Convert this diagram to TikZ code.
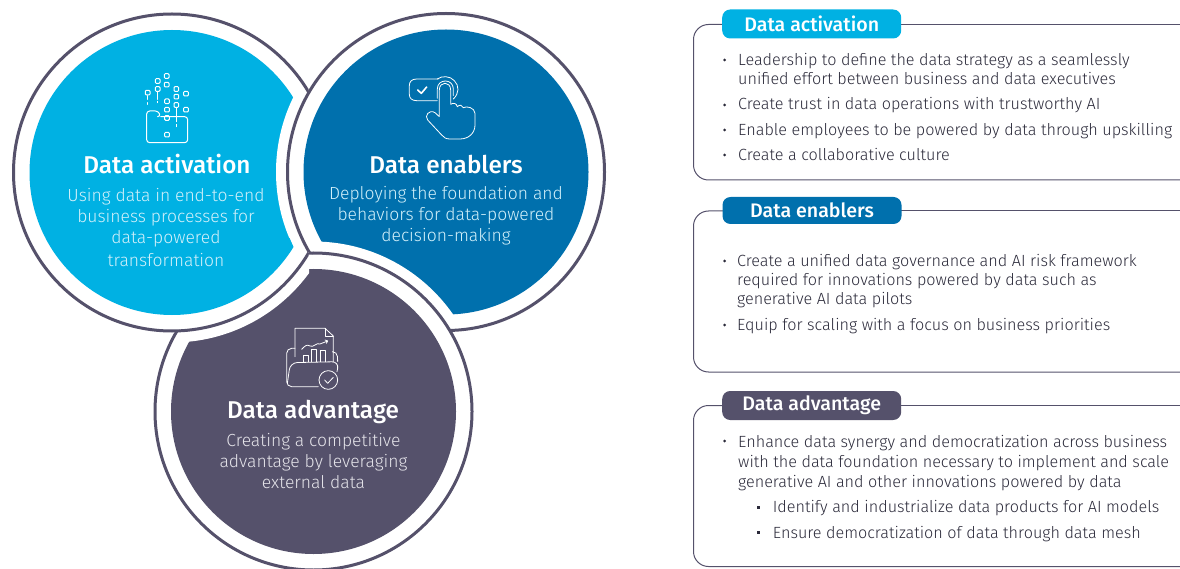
\documentclass[tikz,border=0pt]{standalone}
\usepackage{fontspec}
\setmainfont{Fira Sans Light}
\newfontfamily\headfont{Fira Sans Medium}
\usetikzlibrary{positioning}
\definecolor{skyblue}{HTML}{00B1E3}
\definecolor{deepblue}{HTML}{0070AD}
\definecolor{slate}{HTML}{55516B}
\definecolor{bodyink}{HTML}{2B2A3A}
\definecolor{paleblue}{HTML}{D2F0FA}
\definecolor{paleslate}{HTML}{E4E3E9}
\tikzstyle{ringline} = [draw=slate, line width=3pt]
\tikzstyle{frame} = [draw=slate, line width=1pt, rounded corners=15pt]
\tikzstyle{title} = [anchor=base, text=white, font=\headfont\fontsize{24.3}{28}\selectfont]
\tikzstyle{blurb} = [anchor=base, text=paleslate, font=\fontsize{17.5}{21}\selectfont]
\tikzstyle{pill} = [rectangle, rounded corners=8pt, minimum width=179pt, text=white,
inner sep=0pt, font=\headfont\fontsize{19.6}{22}\selectfont]
\tikzstyle{item} = [anchor=base west, inner sep=0pt, align=left, text=bodyink,
font=\fontsize{16.2}{19}\selectfont]
\tikzstyle{dot} = [circle, fill=bodyink, inner sep=0pt, minimum size=3pt]
\tikzstyle{sqdot} = [rectangle, fill=bodyink, inner sep=0pt, minimum size=3pt]
\tikzstyle{icon} = [draw=white, line width=1pt, line join=round, line cap=round]
\newcommand{\colordisc}[3]{
    \fill [white, even odd rule] (#1,#2) circle (170pt) (#1,#2) circle (142pt);
    \fill [#3] (#1,#2) circle (142.5pt);
}
\begin{document}
\begin{tikzpicture}[x=1pt, y=-1pt]
    \useasboundingbox (0,0) rectangle (1180,569);

    \colordisc{172}{172.5}{skyblue}
    \colordisc{446}{172}{deepblue}
    \colordisc{313.5}{411.5}{slate}
    \begin{scope}
        \clip (0,238) -- (289.5,238) -- (294,248) -- (309,253) -- (309,569) -- (0,569) -- cycle;
        \colordisc{172}{172.5}{skyblue}
    \end{scope}

    % rings, each stopping where it meets the next
    \begin{scope}
        \clip (0,0) rectangle (308.5,569);
        \draw [ringline] (172,172.5) circle (158.5pt);
    \end{scope}
    \begin{scope}
        \clip (260,0) -- (640,0) -- (640,435.6) -- (260,225.5) -- cycle;
        \draw [ringline] (446,172) circle (158.5pt);
    \end{scope}
    \begin{scope}
        \clip (140,353) -- (500,139.4) -- (500,600) -- (140,600) -- cycle;
        \draw [ringline] (313.5,411.5) circle (158.5pt);
    \end{scope}

    \node (actTitle) [title] at (167,173.5) {Data activation};
    \node (actA) [blurb, text=paleblue] at (166,202) {Using data in end-to-end};
    \node (actB) [blurb, text=paleblue] at (166,223) {business processes for};
    \node (actC) [blurb, text=paleblue] at (166,244) {data-powered};
    \node (actD) [blurb, text=paleblue] at (166,266) {transformation};
    \node (enbTitle) [title] at (446,173.5) {Data enablers};
    \node (enbA) [blurb, text=paleblue] at (446,200) {Deploying the foundation and};
    \node (enbB) [blurb, text=paleblue] at (446,221) {behaviors for data-powered};
    \node (enbC) [blurb, text=paleblue] at (446,242) {decision-making};
    \node (advTitle) [title] at (313,418.5) {Data advantage};
    \node (advA) [blurb] at (313.5,446) {Creating a competitive};
    \node (advB) [blurb] at (313.5,467) {advantage by leveraging};
    \node (advC) [blurb] at (313.5,488) {external data};

    % icons
    \begin{scope}[shift={(130,60)}, scale=1/3]
        \foreach \sx/\sy in {110/48, 83/63, 110/74, 83/87, 53/98, 139/87, 168/101, 139/110,
                             111/124, 111/149, 139/135, 168/149, 111/174, 111/224}
            \draw [icon, rounded corners=1pt] (\sx-7,\sy-7) rectangle (\sx+7,\sy+7);
        \draw [icon, rounded corners=3pt] (85,170) -- (92,170) -- (85,153) -- (50,153) -- (50,248) -- (173,248) -- (173,170) -- (92,170);
        \draw [icon] (83,95) -- (83,118) (83,124) -- (83,128);
        \draw [icon] (53,107) -- (53,118) (53,128) -- (53,133);
        \draw [icon] (139,143) -- (139,185) (139,193) -- (139,200);
    \end{scope}
    \begin{scope}[shift={(400,65)}, scale=1/3]
        \draw [icon, line width=0.8pt] (115,42) -- (50,42) .. controls (35,42) and (28,50) .. (28,62) -- (28,88)
            .. controls (28,100) and (36,107) .. (50,107) -- (112,107);
        \draw [icon, line width=0.8pt] (112,42) .. controls (125,32) and (150,32) .. (163,47) .. controls (178,62) and (178,85) .. (160,102);
        \draw [icon, line width=0.8pt] (112,100) -- (112,72) .. controls (112,40) and (160,40) .. (160,72) -- (160,92);
        \draw [icon, line width=0.8pt] (118,155) -- (118,75) .. controls (118,48) and (152,48) .. (152,75) -- (152,118)
            .. controls (160,112) and (170,115) .. (172,125) .. controls (178,118) and (188,120) .. (190,128)
            .. controls (200,122) and (224,128) .. (225,145) -- (225,180)
            .. controls (225,205) and (205,222) .. (180,222) -- (150,222)
            .. controls (138,222) and (132,218) .. (125,210) -- (83,165)
            .. controls (72,152) and (88,132) .. (105,143) -- (118,155);
        \draw [icon, line width=1.6pt] (53,75) -- (64,85) -- (80,66);
    \end{scope}
    \begin{scope}[shift={(275,320)}, scale=1/3]
        \draw [icon, line width=0.8pt] (60,110) -- (60,25) -- (150,25) -- (175,48) -- (175,125);
        \draw [icon, line width=0.8pt] (150,25) -- (150,48) -- (175,48);
        \draw [icon, line width=0.8pt] (80,88) .. controls (90,78) and (95,72) .. (105,78) .. controls (115,84) and (125,66) .. (135,72) -- (158,63);
        \draw [icon, line width=0.8pt] (150,60) -- (158,63) -- (154,70);
        \draw [icon, line width=0.8pt] (85,125) -- (85,105) -- (100,105) -- (100,125);
        \draw [icon, line width=0.8pt] (110,125) -- (110,88) -- (125,88) -- (125,125);
        \draw [icon, line width=0.8pt] (137,125) -- (137,92) -- (152,92) -- (152,125);
        \draw [icon, line width=0.8pt, rounded corners=5pt] (60,85) -- (35,85) -- (35,200) -- (130,200);
        \draw [icon, line width=0.8pt, rounded corners=5pt] (175,95) -- (187,95) -- (188,125);
        \draw [icon, line width=0.8pt, rounded corners=7pt] (37,190) -- (46,128) -- (192,125) -- (186,155);
        \draw [icon, line width=0.8pt, fill=slate] (160,180) circle (28pt);
        \draw [icon, line width=0.8pt] (149,180) -- (158,190) -- (175,172);
    \end{scope}

    % panels
    \draw [frame] (730,24.5) -- (693.5,24.5) -- (693.5,180) -- (1195,180);
    \draw [draw=slate, line width=1pt] (890,24.5) -- (1180,24.5);
    \draw [frame] (730,211) -- (693.5,211) -- (693.5,372) -- (1195,372);
    \draw [draw=slate, line width=1pt] (890,211) -- (1180,211);
    \draw [frame] (730,405.5) -- (693.5,405.5) -- (693.5,566.5) -- (1195,566.5);
    \draw [draw=slate, line width=1pt] (890,405.5) -- (1180,405.5);

    \node (pillAct) [pill, fill=skyblue, minimum height=29pt] at (811.7,24) {Data activation};
    \node (pillEnb) [pill, fill=deepblue, minimum height=27pt] at (812,210.5) {Data enablers};
    \node (pillAdv) [pill, fill=slate, minimum height=29pt] at (811.7,405.5) {Data advantage};

    \foreach \dy in {60,105,130,155,261,325,441}
        \node [dot] at (724.5,\dy) {};
    \foreach \dy in {507,532}
        \node [sqdot] at (758.7,\dy) {};

    \node (itemA) [item] at (738,85) {Leadership to define the data strategy as a seamlessly\\unified effort between business and data executives};
    \node (itemB) [item] at (738,110) {Create trust in data operations with trustworthy AI};
    \node (itemC) [item] at (738,136) {Enable employees to be powered by data through upskilling};
    \node (itemD) [item] at (738,161) {Create a collaborative culture};
    \node (itemE) [item] at (737,305) {Create a unified data governance and AI risk framework\\required for innovations powered by data such as\\generative AI data pilots};
    \node (itemF) [item] at (737,330) {Equip for scaling with a focus on business priorities};
    \node (itemG) [item] at (738,487) {Enhance data synergy and democratization across business\\[1pt]with the data foundation necessary to implement and scale\\[1pt]generative AI and other innovations powered by data};
    \node (itemH) [item] at (772.7,512.5) {Identify and industrialize data products for AI models};
    \node (itemI) [item] at (772.7,538) {Ensure democratization of data through data mesh};
\end{tikzpicture}
\end{document}
